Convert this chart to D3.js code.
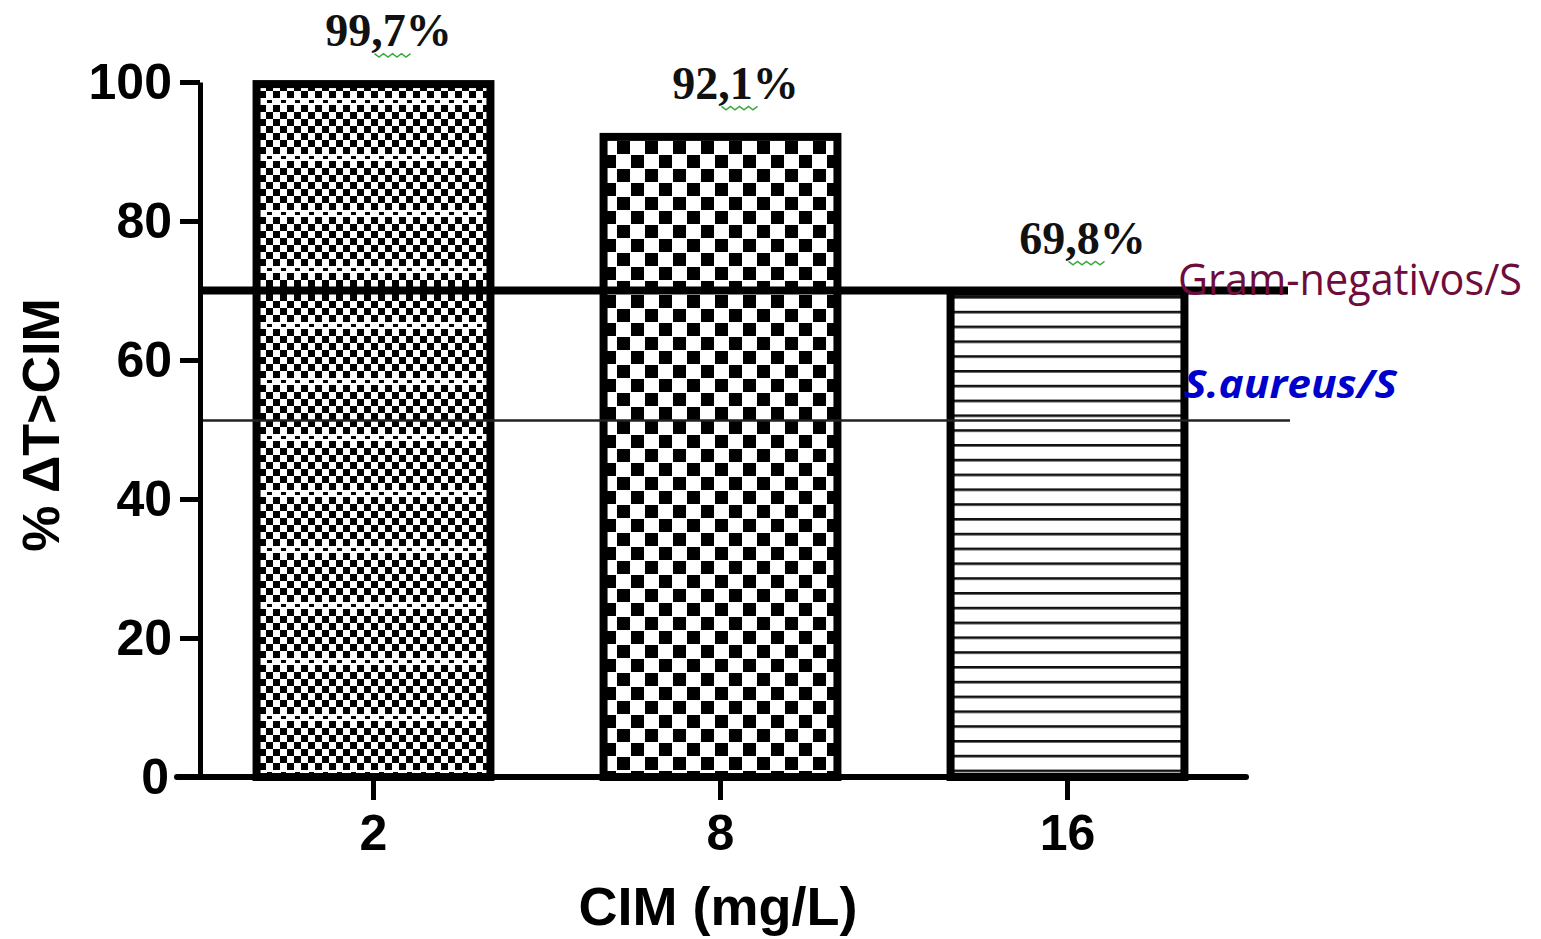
<!DOCTYPE html>
<html>
<head>
<meta charset="utf-8">
<script src="https://cdn.jsdelivr.net/npm/d3@7"></script>
<style>
  body { margin: 0; background: #fff; }
</style>
</head>
<body>
<svg id="chart" width="1541" height="939"></svg>
<script>
const categories = ["2", "8", "16"];
const values = [99.7, 92.1, 69.8];
const valueLabels = ["99,7%", "92,1%", "69,8%"];
const yTicks = [0, 20, 40, 60, 80, 100];
const refNames = ["Gram-negativos/S", "S.aureus/S"];
const refValues = [70, 51.3];

(function drawChart() {
  const svg = d3.select("#chart");

  const x = d3.scaleBand()
    .domain(categories)
    .range([200, 1241])
    .paddingInner(0.326)
    .paddingOuter(0.163);

  const y = d3.scaleLinear()
    .domain([0, 100])
    .range([777, 82]);

  // fill patterns
  const defs = svg.append("defs");

  const fine = defs.append("pattern")
    .attr("id", "pat-fine")
    .attr("patternUnits", "userSpaceOnUse")
    .attr("width", 14).attr("height", 56);
  fine.append("rect").attr("width", 14).attr("height", 56).attr("fill", "#fff");
  for (let r = 0; r < 8; r++) {
    if (r === 6) {
      fine.append("rect").attr("x", 1).attr("y", r * 7 + 2).attr("width", 5).attr("height", 3).attr("fill", "#000");
      continue;
    }
    fine.append("rect").attr("x", (r % 2) * 7).attr("y", r * 7).attr("width", 7).attr("height", 7).attr("fill", "#000");
  }

  const coarse = defs.append("pattern")
    .attr("id", "pat-coarse")
    .attr("patternUnits", "userSpaceOnUse")
    .attr("width", 28).attr("height", 28);
  coarse.append("rect").attr("width", 28).attr("height", 28).attr("fill", "#fff");
  coarse.append("rect").attr("x", 1).attr("y", 1).attr("width", 13).attr("height", 13).attr("fill", "#000");
  coarse.append("rect").attr("x", 15).attr("y", 15).attr("width", 13).attr("height", 13).attr("fill", "#000");

  const lines = defs.append("pattern")
    .attr("id", "pat-lines")
    .attr("patternUnits", "userSpaceOnUse")
    .attr("width", 20).attr("height", 14.8);
  lines.append("rect").attr("width", 20).attr("height", 14.8).attr("fill", "#fff");
  lines.append("rect").attr("y", 0).attr("width", 20).attr("height", 2.6).attr("fill", "#111");

  const fills = ["url(#pat-fine)", "url(#pat-coarse)", "url(#pat-lines)"];

  // bars
  svg.selectAll(".bar")
    .data(values)
    .enter()
    .append("rect")
    .attr("class", "bar")
    .attr("x", (d, i) => x(categories[i]))
    .attr("y", d => y(d))
    .attr("width", x.bandwidth())
    .attr("height", d => y(0) - y(d))
    .attr("fill", (d, i) => fills[i])
    .attr("stroke", "#000")
    .attr("stroke-width", 8);

  // reference lines
  svg.append("line")
    .attr("x1", 200).attr("x2", 1290)
    .attr("y1", y(refValues[1])).attr("y2", y(refValues[1]))
    .attr("stroke", "#222").attr("stroke-width", 2.5);

  svg.append("line")
    .attr("x1", 200).attr("x2", 1288)
    .attr("y1", y(refValues[0])).attr("y2", y(refValues[0]))
    .attr("stroke", "#000").attr("stroke-width", 8);

  // y axis (the 0 tick is drawn by the x axis line)
  const yAxis = svg.append("g")
    .attr("transform", "translate(200,0)")
    .call(d3.axisLeft(y).tickValues(yTicks).tickSize(20).tickSizeOuter(0).tickPadding(8));
  yAxis.select(".domain").attr("stroke", "#000").attr("stroke-width", 5);
  yAxis.selectAll(".tick line").attr("stroke", "#000").attr("stroke-width", 5);
  yAxis.selectAll(".tick text")
    .attr("font-family", "'Liberation Sans', Arial, sans-serif")
    .attr("font-weight", "bold")
    .attr("font-size", 50)
    .attr("fill", "#000");
  yAxis.selectAll(".tick").filter(d => d === 0).select("text").attr("x", -31);

  // x axis
  const xAxis = svg.append("g")
    .attr("transform", "translate(0,777)")
    .call(d3.axisBottom(x).tickSize(23).tickSizeOuter(0).tickPadding(14));
  xAxis.select(".domain").remove();
  xAxis.selectAll(".tick line").attr("stroke", "#000").attr("stroke-width", 5);
  xAxis.selectAll(".tick text")
    .attr("font-family", "'Liberation Sans', Arial, sans-serif")
    .attr("font-weight", "bold")
    .attr("font-size", 50)
    .attr("fill", "#000");

  svg.append("line")
    .attr("x1", 177).attr("x2", 1246)
    .attr("y1", 777).attr("y2", 777)
    .attr("stroke", "#000").attr("stroke-width", 6)
    .attr("stroke-linecap", "round");

  // axis titles
  svg.append("text")
    .attr("x", 718).attr("y", 925)
    .attr("text-anchor", "middle")
    .attr("font-family", "'Liberation Sans', Arial, sans-serif")
    .attr("font-weight", "bold")
    .attr("font-size", 54)
    .text("CIM (mg/L)");

  svg.append("text")
    .attr("transform", "translate(59,425) rotate(-90)")
    .attr("text-anchor", "middle")
    .attr("font-family", "'Liberation Sans', Arial, sans-serif")
    .attr("font-weight", "bold")
    .attr("font-size", 52)
    .text("% \u0394T>CIM");

  // value labels with spell-check squiggles
  values.forEach((v, i) => {
    const cx = x(categories[i]) + x.bandwidth() / 2 + 15;
    const base = y(v) - 38;

    svg.append("text")
      .attr("x", cx).attr("y", base)
      .attr("text-anchor", "middle")
      .attr("font-family", "'Liberation Serif', 'Times New Roman', serif")
      .attr("font-weight", "bold")
      .attr("font-size", 46)
      .attr("fill", "#111")
      .text(valueLabels[i]);

    const pts = d3.range(0, 9).map(k => [cx - 14 + k * 4.5, base + 9 + (k % 2 ? 2 : -1.5)]);
    svg.append("path")
      .attr("d", d3.line()(pts))
      .attr("fill", "none")
      .attr("stroke", "#3aa83a")
      .attr("stroke-width", 1.5);
  });

  // reference line labels
  svg.append("text")
    .attr("x", 1178).attr("y", y(refValues[0]) + 4)
    .attr("font-family", "'Open Sans', 'Noto Sans', sans-serif")
    .attr("font-size", 43)
    .attr("fill", "#6e0c3c")
    .attr("textLength", 344)
    .attr("lengthAdjust", "spacingAndGlyphs")
    .text(refNames[0]);

  svg.append("text")
    .attr("x", 1184).attr("y", y(refValues[1]) - 22)
    .attr("font-family", "'Open Sans', 'Noto Sans', sans-serif")
    .attr("font-size", 40)
    .attr("font-weight", "bold")
    .attr("font-style", "italic")
    .attr("fill", "#0000cc")
    .attr("textLength", 213)
    .attr("lengthAdjust", "spacingAndGlyphs")
    .text(refNames[1]);
})();
</script>
</body>
</html>
